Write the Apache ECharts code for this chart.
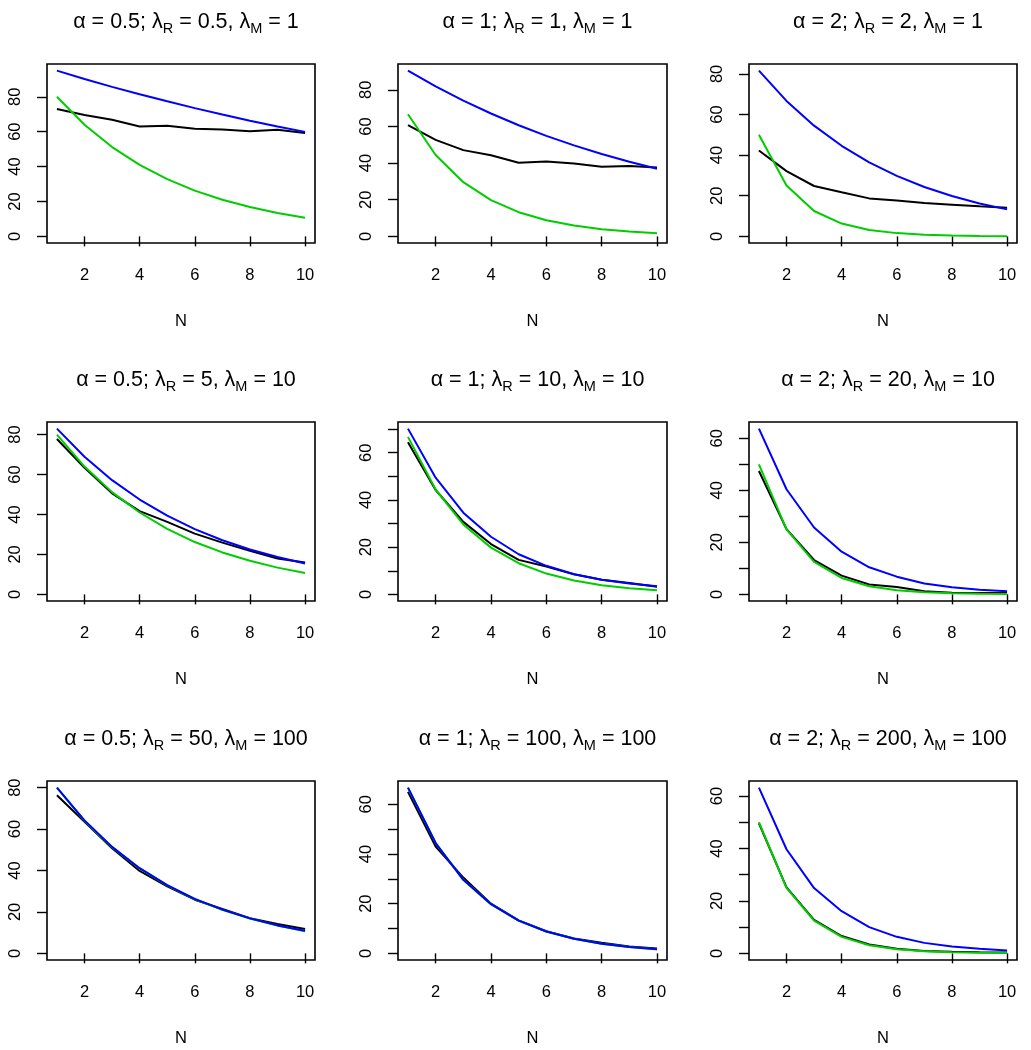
<!DOCTYPE html>
<html>
<head>
<meta charset="utf-8">
<script src="https://cdn.jsdelivr.net/npm/echarts@6/dist/echarts.min.js"></script>
<style>
html,body{margin:0;padding:0;background:#fff;}
#chart{width:1031px;height:1050px;}
</style>
</head>
<body>
<div id="chart"></div>
<script>
// ---- data ----
const N = [1, 2, 3, 4, 5, 6, 7, 8, 9, 10];
const alphaVals = ['0.5', '1', '2', '0.5', '1', '2', '0.5', '1', '2'];
const lambdaR = ['0.5', '1', '2', '5', '10', '20', '50', '100', '200'];
const lambdaM = ['1', '1', '1', '10', '10', '10', '100', '100', '100'];
const xTicks = [2, 4, 6, 8, 10];

const black1 = [73.0, 69.6, 66.8, 63.0, 63.4, 61.7, 61.3, 60.2, 61.1, 59.2];
const blue1  = [95.0, 90.2, 85.7, 81.5, 77.4, 73.5, 69.8, 66.3, 63.0, 59.9];
const green1 = [80.0, 64.0, 51.2, 41.0, 32.8, 26.2, 21.0, 16.8, 13.4, 10.7];

const black2 = [60.7, 52.7, 47.1, 44.3, 40.2, 40.9, 39.8, 38.0, 38.4, 37.6];
const blue2  = [90.5, 81.9, 74.1, 67.1, 60.7, 54.9, 49.7, 45.0, 40.7, 36.9];
const green2 = [66.7, 44.4, 29.6, 19.8, 13.2, 8.8, 5.9, 3.9, 2.6, 1.7];

const black3 = [42.3, 32.1, 24.8, 21.7, 18.7, 17.7, 16.4, 15.6, 14.8, 14.1];
const blue3  = [81.6, 66.7, 54.5, 44.6, 36.4, 29.8, 24.3, 19.9, 16.2, 13.3];
const green3 = [50.0, 25.0, 12.5, 6.3, 3.1, 1.6, 0.8, 0.4, 0.2, 0.1];

const black4 = [77.8, 63.4, 50.6, 41.7, 36.3, 30.4, 25.9, 21.8, 18.0, 16.0];
const blue4  = [83.0, 68.9, 57.2, 47.5, 39.4, 32.7, 27.1, 22.5, 18.7, 15.5];
const green4 = [80.0, 64.0, 51.2, 41.0, 32.8, 26.2, 21.0, 16.8, 13.4, 10.7];

const black5 = [64.4, 44.2, 30.7, 21.3, 14.6, 11.8, 8.5, 6.2, 4.8, 3.2];
const blue5  = [70.2, 49.4, 34.6, 24.4, 17.0, 12.1, 8.5, 6.2, 4.6, 3.4];
const green5 = [66.7, 44.4, 29.6, 19.8, 13.2, 8.8, 5.9, 3.9, 2.6, 1.7];

const black6 = [47.4, 25.1, 13.2, 7.2, 3.8, 2.8, 1.2, 0.6, 0.5, 0.5];
const blue6  = [63.7, 40.4, 25.7, 16.4, 10.4, 6.8, 4.2, 2.7, 1.8, 1.2];
const green6 = [50.0, 25.0, 12.5, 6.3, 3.1, 1.6, 0.8, 0.4, 0.2, 0.1];

const black7 = [76.3, 63.5, 50.7, 39.8, 32.3, 25.9, 21.4, 17.0, 14.2, 11.8];
const blue7  = [80.0, 64.2, 51.4, 41.1, 32.9, 26.3, 21.1, 16.9, 13.5, 10.9];
const green7 = [80.0, 64.0, 51.2, 41.0, 32.8, 26.2, 21.0, 16.8, 13.4, 10.7];

const black8 = [65.0, 43.0, 30.5, 20.0, 13.3, 8.9, 6.0, 4.3, 2.8, 2.0];
const blue8  = [66.7, 44.4, 29.6, 19.8, 13.2, 8.8, 5.9, 3.9, 2.6, 1.7];
const green8 = [66.7, 44.4, 29.6, 19.8, 13.2, 8.8, 5.9, 3.9, 2.6, 1.7];

const black9 = [49.6, 25.2, 12.8, 6.6, 3.4, 1.8, 0.9, 0.6, 0.4, 0.3];
const blue9  = [63.2, 39.7, 24.9, 16.1, 10.0, 6.3, 4.0, 2.6, 1.8, 1.1];
const green9 = [50.0, 25.0, 12.5, 6.3, 3.1, 1.6, 0.8, 0.4, 0.2, 0.1];

const yTicks80 = [0, 20, 40, 60, 80];
const yTicks70 = [0, 10, 20, 30, 40, 50, 60, 70];
const yTicks60 = [0, 10, 20, 30, 40, 50, 60];
const yLabels60 = [0, 20, 40, 60];

const blacks = [black1, black2, black3, black4, black5, black6, black7, black8, black9];
const blues  = [blue1, blue2, blue3, blue4, blue5, blue6, blue7, blue8, blue9];
const greens = [green1, green2, green3, green4, green5, green6, green7, green8, green9];
const yTickSets  = [yTicks80, yTicks80, yTicks80, yTicks80, yTicks70, yTicks60, yTicks80, yTicks60, yTicks60];
const yLabelSets = [yTicks80, yTicks80, yTicks80, yTicks80, yLabels60, yLabels60, yTicks80, yLabels60, yLabels60];

// ---- layout ----
const FONT = '"Liberation Sans", Arial, Helvetica, sans-serif';
const colLeft = [47, 398, 749];
const colWidth = [268, 269, 268];
const rowTop = [64, 422, 781];
const boxH = 179;

const grids = [], xAxes = [], yAxes = [], series = [], titles = [];
for (let i = 0; i < 9; i++) {
  const r = Math.floor(i / 3), c = i % 3;
  grids.push({
    left: colLeft[c], top: rowTop[r], width: colWidth[c], height: boxH,
    show: true, borderColor: '#000', borderWidth: 1.6, backgroundColor: 'transparent'
  });
  const ymax = Math.max(...blacks[i], ...blues[i], ...greens[i]);
  xAxes.push({
    type: 'value', gridIndex: i, min: 0.64, max: 10.36,
    axisLine: { show: false },
    axisTick: { show: true, length: 10, lineStyle: { color: '#000', width: 1.4 }, customValues: xTicks },
    axisLabel: { show: true, color: '#000', fontSize: 16.5, fontFamily: FONT, margin: 24, customValues: xTicks },
    splitLine: { show: false },
    name: 'N', nameLocation: 'middle', nameGap: 70,
    nameTextStyle: { color: '#000', fontSize: 16.5, fontFamily: FONT }
  });
  yAxes.push({
    type: 'value', gridIndex: i, min: -0.04 * ymax, max: 1.04 * ymax,
    axisLine: { show: false },
    axisTick: { show: true, length: 10, lineStyle: { color: '#000', width: 1.4 }, customValues: yTickSets[i] },
    axisLabel: { show: true, color: '#000', fontSize: 16.5, fontFamily: FONT, margin: 23, rotate: 90, customValues: yLabelSets[i] },
    splitLine: { show: false }
  });
  const mk = (arr) => N.map((n, k) => [n, arr[k]]);
  [[blacks[i], '#000000'], [greens[i], '#00CD00'], [blues[i], '#0000FF']].forEach(([arr, col]) => {
    series.push({
      type: 'line', xAxisIndex: i, yAxisIndex: i, data: mk(arr),
      showSymbol: false, symbol: 'none', silent: true, animation: false,
      lineStyle: { color: col, width: 2 }, clip: true
    });
  });
  titles.push({
    text: '{a|α = ' + alphaVals[i] + '; λ}{s|R}{a| = ' + lambdaR[i] + ', λ}{s|M}{a| = ' + lambdaM[i] + '}',
    left: colLeft[c] + colWidth[c] / 2, top: rowTop[r] - 61, textAlign: 'center',
    textStyle: {
      fontWeight: 'normal',
      rich: {
        a: { fontSize: 21.5, fontWeight: 'normal', fontFamily: FONT, color: '#000', lineHeight: 28, verticalAlign: 'middle' },
        s: { fontSize: 14.5, fontWeight: 'normal', fontFamily: FONT, color: '#000', lineHeight: 14, verticalAlign: 'bottom' }
      }
    }
  });
}

const chart = echarts.init(document.getElementById('chart'), null, { renderer: 'canvas' });
chart.setOption({
  animation: false,
  backgroundColor: '#fff',
  title: titles,
  grid: grids,
  xAxis: xAxes,
  yAxis: yAxes,
  series: series
});
</script>
</body>
</html>
